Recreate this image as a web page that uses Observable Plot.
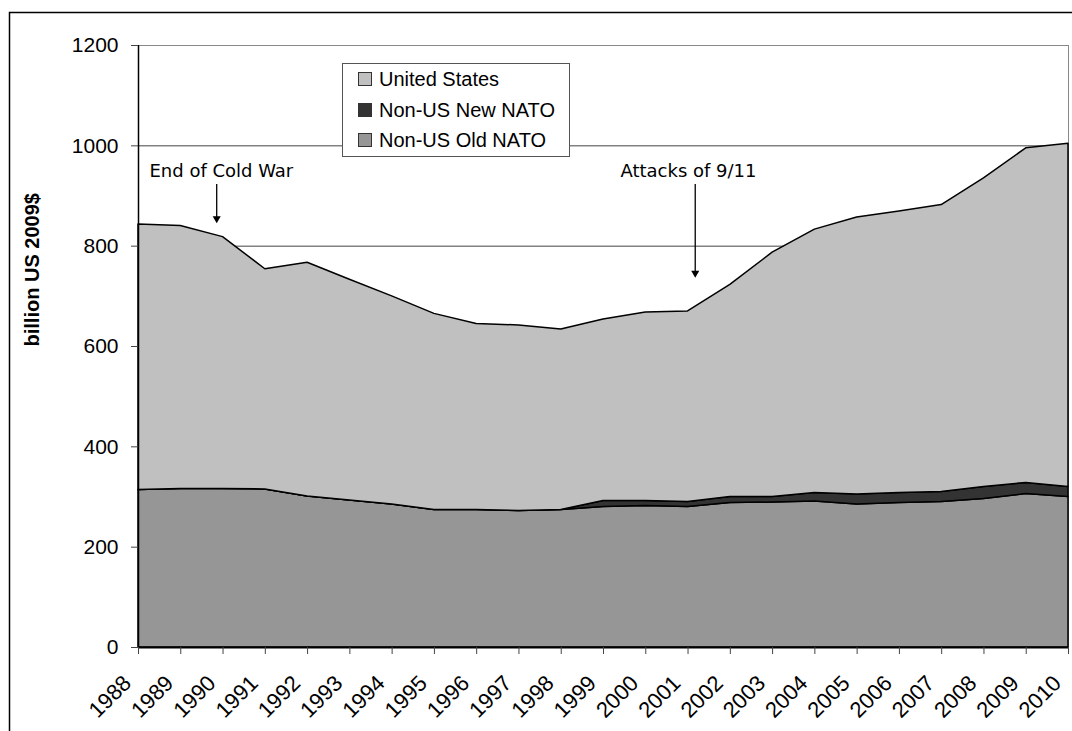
<!DOCTYPE html>
<html>
<head>
<meta charset="utf-8">
<script src="https://cdn.jsdelivr.net/npm/d3@7"></script>
<script src="https://cdn.jsdelivr.net/npm/@observablehq/plot@0.6"></script>
<style>
html, body { margin: 0; padding: 0; background: #fff; }
#chart { position: relative; width: 1072px; height: 731px; overflow: hidden; }
</style>
</head>
<body>
<div id="chart"></div>
<script>
// ---- data (billion US 2009$) ----
const years = [1988, 1989, 1990, 1991, 1992, 1993, 1994, 1995, 1996, 1997, 1998, 1999,
               2000, 2001, 2002, 2003, 2004, 2005, 2006, 2007, 2008, 2009, 2010];
const unitedStates = [529, 524, 502, 439, 466, 440, 415, 391, 371, 370, 360, 362,
                      376, 380, 423, 487, 525, 552, 561, 572, 615, 667, 684];
const nonUsNewNato = [0, 0, 0, 0, 0, 0, 0, 0, 0, 0, 0, 12,
                      10, 10, 12, 11, 17, 20, 20, 20, 24, 22, 20];
const nonUsOldNato = [314, 316, 316, 315, 301, 293, 285, 274, 274, 272, 274, 280,
                      282, 280, 288, 289, 291, 285, 288, 290, 296, 306, 300];

const seriesNames = ["United States", "Non-US New NATO", "Non-US Old NATO"];
const seriesColors = ["#c0c0c0", "#333333", "#969696"];
const stackOrder = ["Non-US Old NATO", "Non-US New NATO", "United States"];
const yTicks = [0, 200, 400, 600, 800, 1000, 1200];
const yTitle = "billion US 2009$";

const annotationLabels = ["End of Cold War", "Attacks of 9/11"];
const annotationTextX = [1989.96, 2001.01];
const annotationTextY = [949, 949];
const annotationArrowX = [1989.85, 2001.17];
const annotationArrowTop = [917, 917];
const annotationArrowTip = [846, 737];

// ---- table ----
const seriesValues = {
  "United States": unitedStates,
  "Non-US New NATO": nonUsNewNato,
  "Non-US Old NATO": nonUsOldNato
};
const data = years.flatMap((year, i) =>
  stackOrder.map(series => ({year, series, value: seriesValues[series][i]}))
);
const annotations = annotationLabels.map((label, i) => ({
  label, tx: annotationTextX[i], ty: annotationTextY[i],
  ax: annotationArrowX[i], a1: annotationArrowTop[i], a2: annotationArrowTip[i]
}));

const font = "Arial, 'Liberation Sans', Helvetica, sans-serif";

const chart = Plot.plot({
  width: 1072,
  height: 731,
  marginLeft: 138,
  marginRight: 4,
  marginTop: 45,
  marginBottom: 84,
  style: {fontFamily: font, fontSize: "20px", color: "#000", background: "#fff", overflow: "visible"},
  x: {domain: [1988, 2010]},
  y: {domain: [0, 1200]},
  color: {domain: seriesNames, range: seriesColors},
  marks: [
    Plot.ruleY(yTicks, {stroke: "#444", strokeWidth: 1}),
    Plot.frame({stroke: "#888", strokeWidth: 1}),
    Plot.areaY(data, {
      x: "year", y: "value", z: "series", fill: "series",
      order: stackOrder, stroke: "#000", strokeWidth: 1.5, strokeLinejoin: "round"
    }),
    Plot.ruleX([1988], {stroke: "#000", strokeWidth: 1.5}),
    Plot.ruleY([0], {stroke: "#000", strokeWidth: 2}),
    Plot.axisY(yTicks, {
      tickSize: 7, tickPadding: 13, fontSize: 21, stroke: "#444", label: null,
      tickFormat: d => String(d)
    }),
    Plot.axisX(years, {tickSize: 7, tickFormat: () => "", stroke: "#444", label: null}),
    Plot.text(years, {
      x: d => d, frameAnchor: "bottom", text: d => String(d),
      rotate: -45, textAnchor: "end", lineAnchor: "middle",
      dx: -11, dy: 32, fontSize: 22, fill: "#000"
    }),
    Plot.text([yTitle], {
      frameAnchor: "left", text: d => d, rotate: -90, dx: -106,
      fontWeight: "bold", fontSize: 20, fill: "#000"
    }),
    // annotations
    Plot.text(annotations, {
      x: "tx", y: "ty", text: "label", textAnchor: "middle", lineAnchor: "middle",
      fontFamily: "Verdana, 'DejaVu Sans', sans-serif", fontSize: 18, fill: "#000"
    }),
    Plot.ruleX(annotations, {x: "ax", y1: "a1", y2: "a2", stroke: "#000", strokeWidth: 1.3, dy: -3}),
    Plot.dot(annotations, {
      x: "ax", y: "a2", symbol: "triangle", rotate: 180, r: 3,
      fill: "#000", stroke: "none", dy: -4.6
    })
  ]
});

document.getElementById("chart").appendChild(chart);

// ---- legend (inside plot area, built from the series arrays) ----
const svg = d3.select(chart);
const legend = svg.append("g")
  .attr("font-family", font).attr("font-size", 20).attr("text-anchor", "start");
legend.append("rect")
  .attr("x", 342.5).attr("y", 63.5).attr("width", 227).attr("height", 93)
  .attr("fill", "#fff").attr("stroke", "#555").attr("stroke-width", 1);
const rowY = [79, 110, 140];
seriesNames.forEach((name, i) => {
  legend.append("rect")
    .attr("x", 358.5).attr("y", rowY[i] - 6.5).attr("width", 13).attr("height", 13)
    .attr("fill", seriesColors[i]).attr("stroke", "#333").attr("stroke-width", 1);
  legend.append("text")
    .attr("x", 379).attr("y", rowY[i]).attr("dy", "0.35em")
    .attr("text-anchor", "start")
    .attr("fill", "#000").text(name);
});

// ---- outer chart border ----
svg.append("rect")
  .attr("x", 9.5).attr("y", 12.5).attr("width", 1200).attr("height", 1000)
  .attr("fill", "none").attr("stroke", "#000").attr("stroke-width", 1.5);
</script>
</body>
</html>
